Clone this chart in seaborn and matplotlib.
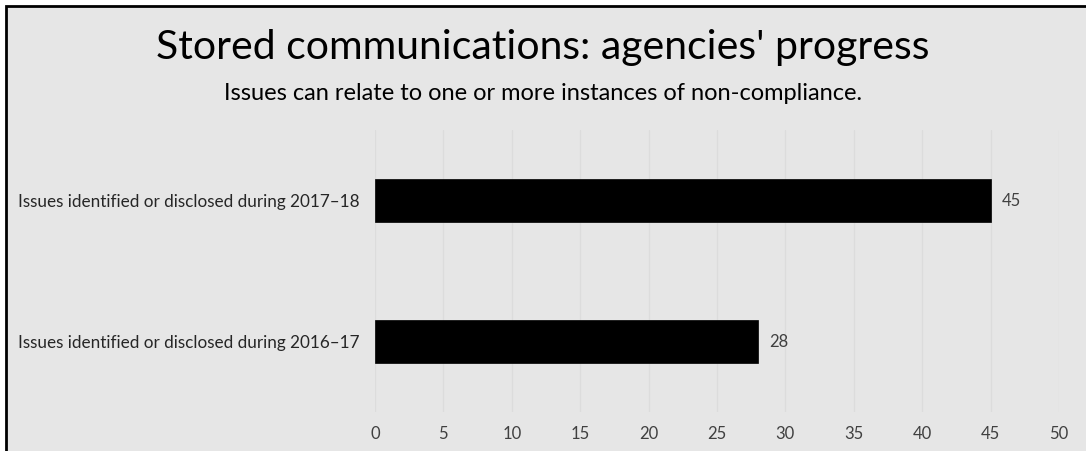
import matplotlib
matplotlib.use("Agg")
import matplotlib.pyplot as plt
import matplotlib.patches as mpatches
import pandas as pd
import seaborn as sns

# chart data
categories = ["Issues identified or disclosed during 2017\u201318",
              "Issues identified or disclosed during 2016\u201317"]
issues = [45, 28]
x_ticks = [0, 5, 10, 15, 20, 25, 30, 35, 40, 45, 50]

df = pd.DataFrame({"category": categories, "issues": issues})

bg = "#e6e6e6"
sns.set_style("whitegrid")
plt.rcParams['font.family'] = ['Lato', 'DejaVu Sans']

fig = plt.figure(figsize=(10.86, 4.51), dpi=100)
fig.patch.set_facecolor("white")
# grey panel with black frame on left and top
fig.patches.append(mpatches.Rectangle((6 / 1086, -0.01), 1.1, 1 - 6 / 451 + 0.01,
                                      transform=fig.transFigure, facecolor=bg,
                                      edgecolor="black", linewidth=2, zorder=-1))

ax = fig.add_axes([375 / 1086, 1 - 412 / 451, (1059 - 375) / 1086, (412 - 130) / 451])
ax.set_facecolor(bg)
sns.barplot(data=df, x="issues", y="category", color="black", width=0.3,
            saturation=1, edgecolor="black", linewidth=0.5, ax=ax)

ax.set_xlim(0, 50)
ax.set_ylim(1.5, -0.5)
ax.set_xticks(x_ticks)
ax.grid(axis="x", color="#dcdcdc", linewidth=0.9)
ax.grid(axis="y", visible=False)
for s in ax.spines.values():
    s.set_visible(False)
ax.tick_params(axis="both", length=0, colors="#404040")
ax.tick_params(axis="x", pad=10, labelsize=12)
ax.tick_params(axis="y", pad=11, labelsize=12.3)
for lbl in ax.get_yticklabels():
    lbl.set_color("#262626")
ax.set_xlabel("")
ax.set_ylabel("")

for c in ax.containers:
    ax.bar_label(c, padding=8, fontsize=12, color="#404040")

fig.text(0.5, 1 - 48 / 451, "Stored communications: agencies' progress",
         ha="center", va="center", fontsize=29.5, color="black")
fig.text(0.5, 1 - 93 / 451, "Issues can relate to one or more instances of non-compliance.",
         ha="center", va="center", fontsize=17, color="black")

fig.savefig("out.png", dpi=100, facecolor=fig.get_facecolor())
